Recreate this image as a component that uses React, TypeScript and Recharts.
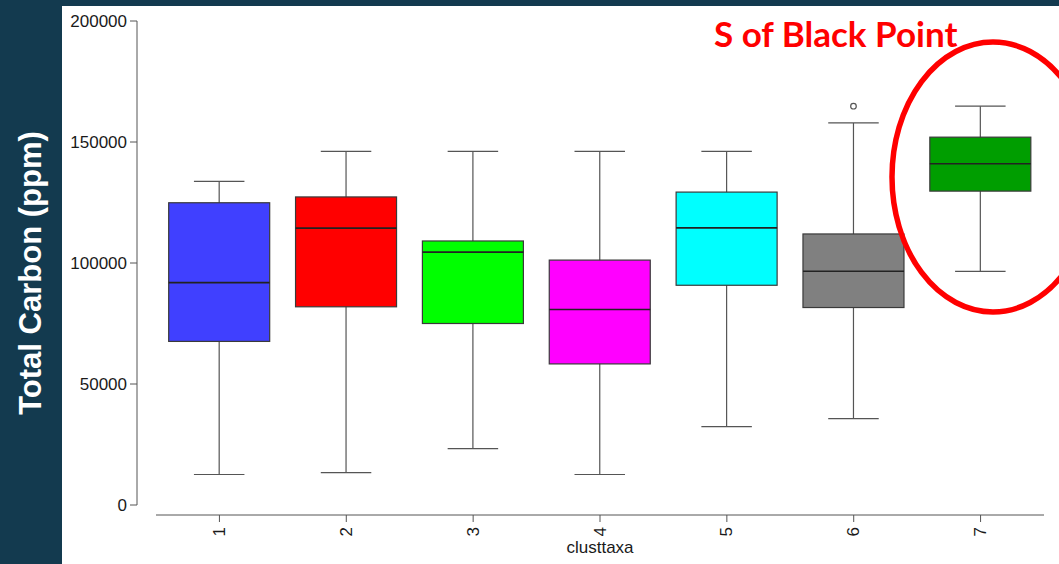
import React from "react";
import { ComposedChart, Bar, XAxis, YAxis } from "recharts";

// boxplot stats per cluster
const clusters = ["1", "2", "3", "4", "5", "6", "7"];
const whiskerLow = [12600, 13400, 23300, 12600, 32400, 35700, 96500];
const q1 = [67600, 81900, 75000, 58300, 90800, 81600, 129700];
const median = [91900, 114400, 104500, 80800, 114500, 96600, 141000];
const q3 = [124900, 127300, 109100, 101200, 129300, 112000, 152000];
const whiskerHigh = [133700, 146100, 146100, 146100, 146100, 157900, 164800];
const outliers: (number | null)[] = [null, null, null, null, null, 164800, null];
const boxColors = ["#4040ff", "#ff0000", "#00ff00", "#ff00ff", "#00ffff", "#808080", "#009e00"];
const yTicks = [0, 50000, 100000, 150000, 200000];

const NAVY = "#133a4f";
const AXIS = "#555555";
const FONT = "'Liberation Sans', Arial, sans-serif";

const chartData = clusters.map((c, i) => ({
    cluster: c,
    range: [whiskerLow[i], whiskerHigh[i]],
    low: whiskerLow[i],
    q1: q1[i],
    median: median[i],
    q3: q3[i],
    high: whiskerHigh[i],
    outlier: outliers[i],
    color: boxColors[i],
}));

function BoxShape(props: any) {
    const { x, y, width, height, payload } = props;
    const top = Math.min(y, y + height);
    const h = Math.abs(height);
    const perUnit = h / (payload.high - payload.low);
    const toY = (v: number) => top + (payload.high - v) * perUnit;
    const cx = x + width / 2;
    const cap = width / 4;
    return (
        <g>
            <line x1={cx} x2={cx} y1={toY(payload.high)} y2={toY(payload.low)} stroke={AXIS} strokeWidth={1.2} />
            <line x1={cx - cap} x2={cx + cap} y1={toY(payload.high)} y2={toY(payload.high)} stroke={AXIS} strokeWidth={1.2} />
            <line x1={cx - cap} x2={cx + cap} y1={toY(payload.low)} y2={toY(payload.low)} stroke={AXIS} strokeWidth={1.2} />
            <rect
                x={x}
                y={toY(payload.q3)}
                width={width}
                height={toY(payload.q1) - toY(payload.q3)}
                fill={payload.color}
                stroke="#3a3a3a"
                strokeWidth={1.2}
            />
            <line x1={x} x2={x + width} y1={toY(payload.median)} y2={toY(payload.median)} stroke="#222" strokeWidth={1.6} />
            {payload.outlier != null && (
                <circle cx={cx} cy={toY(payload.outlier)} r={2.8} fill="none" stroke={AXIS} strokeWidth={1.2} />
            )}
        </g>
    );
}

function XTick(props: any) {
    const { x, y, payload } = props;
    return (
        <text
            x={x}
            y={y}
            transform={`rotate(-90 ${x} ${y})`}
            textAnchor="end"
            dominantBaseline="central"
            fontSize={17}
            fontFamily={FONT}
            fill="#1a1a1a"
        >
            {payload.value}
        </text>
    );
}

export default function App() {
    return (
        <div style={{ position: "absolute", left: 0, top: 0, width: 1059, height: 564, background: NAVY, overflow: "hidden" }}>
            <div style={{ position: "absolute", left: 62, top: 6, right: 0, bottom: 0, background: "#ffffff" }} />
            <div style={{ position: "absolute", left: 0, top: 0 }}>
                <ComposedChart
                    width={1059}
                    height={564}
                    data={chartData}
                    margin={{ top: 21, right: 15, bottom: 0, left: 0 }}
                    barCategoryGap="10%"
                >
                    <XAxis xAxisId="gap" dataKey="cluster" height={10} tick={false} axisLine={false} tickLine={false} />
                    <XAxis
                        xAxisId="main"
                        dataKey="cluster"
                        height={49}
                        tick={<XTick />}
                        tickSize={7}
                        tickMargin={5}
                        axisLine={{ stroke: AXIS }}
                        tickLine={{ stroke: AXIS }}
                        interval={0}
                        label={{
                            value: "clusttaxa",
                            position: "insideBottom",
                            offset: 11,
                            fontSize: 17,
                            fontFamily: FONT,
                            fill: "#1a1a1a",
                        }}
                    />
                    <YAxis yAxisId="gap" type="number" domain={[0, 200000]} width={19} tick={false} axisLine={false} tickLine={false} />
                    <YAxis
                        yAxisId="main"
                        type="number"
                        domain={[0, 200000]}
                        ticks={yTicks}
                        width={137}
                        tickSize={7}
                        tickMargin={3}
                        axisLine={{ stroke: AXIS }}
                        tickLine={{ stroke: AXIS }}
                        tick={{ fontSize: 17, fontFamily: FONT, fill: "#1a1a1a" }}
                    />
                    <Bar xAxisId="main" yAxisId="main" dataKey="range" shape={<BoxShape />} isAnimationActive={false} />
                </ComposedChart>
            </div>
            <svg width={1059} height={564} style={{ position: "absolute", left: 0, top: 0, pointerEvents: "none" }}>
                <text
                    x={30}
                    y={273}
                    transform="rotate(-90 30 273)"
                    textAnchor="middle"
                    dominantBaseline="central"
                    fontSize={31}
                    fontWeight="bold"
                    fontFamily={FONT}
                    fill="#ffffff"
                >
                    Total Carbon (ppm)
                </text>
                <text x={714} y={47} fontSize={35} fontWeight="bold" fontFamily="Lato, 'Open Sans', sans-serif" fill="#ff0000">
                    S of Black Point
                </text>
                <ellipse cx={993} cy={177} rx={101} ry={135} fill="none" stroke="#ff0000" strokeWidth={5.5} />
            </svg>
        </div>
    );
}
